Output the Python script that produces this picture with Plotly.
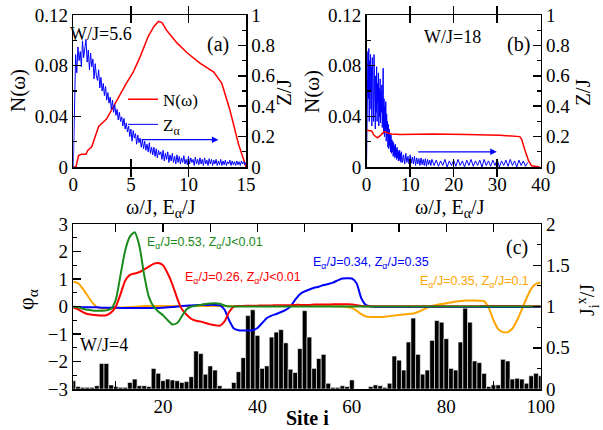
import plotly.graph_objects as go

# ---------------- Panel (a): W/J = 5.6 ----------------
Na_E = [0.0, 0.23, 0.45, 0.7, 1.1, 1.25, 1.6, 1.9, 2.2, 2.9, 3.8, 4.6, 5.2, 5.8, 6.5, 7.0,
        7.4, 7.7, 8.1, 9.0, 9.9, 11.0, 12.2, 12.9, 13.6, 14.35, 14.9, 15.0]
Na_N = [0.0, 0.0, 0.009, 0.01, 0.01, 0.013, 0.016, 0.024, 0.032, 0.038, 0.053, 0.066, 0.075,
        0.087, 0.103, 0.111, 0.115, 0.114, 0.108, 0.098, 0.09, 0.082, 0.075, 0.066, 0.045,
        0.018, 0.003, 0.0]

Za_E = [0.0, 0.1, 0.2, 0.3, 0.4, 0.5, 0.6, 0.7, 0.8, 0.9,
        1.0, 1.1, 1.2, 1.3, 1.4, 1.5, 1.6, 1.7, 1.8, 1.9,
        2.0, 2.1, 2.2, 2.3, 2.4, 2.5, 2.6, 2.7, 2.8, 2.9,
        3.0, 3.1, 3.2, 3.3, 3.4, 3.5, 3.6, 3.7, 3.8, 3.9,
        4.0, 4.1, 4.2, 4.3, 4.4, 4.5, 4.6, 4.7, 4.8, 4.9,
        5.0, 5.1, 5.2, 5.3, 5.4, 5.5, 5.6, 5.7, 5.8, 5.9,
        6.0, 6.1, 6.2, 6.3, 6.4, 6.5, 6.6, 6.7, 6.8, 6.9,
        7.0, 7.1, 7.2, 7.3, 7.4, 7.5, 7.6, 7.7, 7.8, 7.9,
        8.0, 8.1, 8.2, 8.3, 8.4, 8.5, 8.6, 8.7, 8.8, 8.9,
        9.0, 9.1, 9.2, 9.3, 9.4, 9.5, 9.6, 9.7, 9.8, 9.9,
        10.0, 10.1, 10.2, 10.3, 10.4, 10.5, 10.6, 10.7, 10.8, 10.9,
        11.0, 11.1, 11.2, 11.3, 11.4, 11.5, 11.6, 11.7, 11.8, 11.9,
        12.0, 12.1, 12.2, 12.3, 12.4, 12.5, 12.6, 12.7, 12.8, 12.9,
        13.0, 13.1, 13.2, 13.3, 13.4, 13.5, 13.6, 13.7, 13.8, 13.9,
        14.0, 14.1, 14.2, 14.3, 14.4, 14.5, 14.6, 14.7, 14.8, 14.9, 15.0]
Za_Z = [0.0, 0.4, 0.74, 0.62, 0.79, 0.7, 0.76, 0.66, 0.83, 0.72,
        0.8, 0.84, 0.69, 0.77, 0.64, 0.75, 0.66, 0.71, 0.58, 0.68,
        0.6, 0.57, 0.64, 0.52, 0.59, 0.5, 0.55, 0.47, 0.53, 0.44,
        0.49, 0.42, 0.46, 0.38, 0.44, 0.36, 0.41, 0.34, 0.38, 0.31,
        0.36, 0.3, 0.33, 0.27, 0.32, 0.25, 0.29, 0.23, 0.27, 0.2,
        0.25, 0.17, 0.24, 0.19, 0.22, 0.15, 0.21, 0.16, 0.19, 0.13,
        0.18, 0.12, 0.17, 0.11, 0.15, 0.1, 0.16, 0.09, 0.13, 0.08,
        0.13, 0.07, 0.12, 0.06, 0.11, 0.08, 0.1, 0.05, 0.11, 0.04,
        0.09, 0.05, 0.1, 0.03, 0.08, 0.04, 0.09, 0.03, 0.07, 0.02,
        0.08, 0.03, 0.07, 0.02, 0.06, 0.03, 0.075, 0.02, 0.05, 0.015,
        0.07, 0.02, 0.06, 0.03, 0.05, 0.01, 0.065, 0.02, 0.05, 0.015,
        0.06, 0.02, 0.05, 0.01, 0.06, 0.02, 0.045, 0.01, 0.055, 0.02,
        0.05, 0.01, 0.045, 0.02, 0.05, 0.01, 0.04, 0.015, 0.05, 0.01,
        0.04, 0.015, 0.045, 0.01, 0.035, 0.02, 0.045, 0.01, 0.04, 0.015,
        0.035, 0.01, 0.04, 0.015, 0.035, 0.01, 0.04, 0.02, 0.035, 0.015, 0.03]

# ---------------- Panel (b): W/J = 18 ----------------
Nb_E = [0.0, 0.4, 1.15, 1.7, 2.45, 3.2, 4.0, 4.75, 5.7, 7.7, 15.3, 23.0, 30.6, 35.2, 35.6,
        36.4, 37.2, 37.9, 39.8]
Nb_N = [0.029, 0.029, 0.0285, 0.025, 0.023, 0.025, 0.028, 0.027, 0.026, 0.0256, 0.026,
        0.0256, 0.025, 0.024, 0.022, 0.013, 0.005, 0.001, 0.0]

Zb_E = [0.0, 0.1, 0.2, 0.3, 0.4, 0.5, 0.6, 0.7, 0.8, 0.9,
        1.0, 1.1, 1.2, 1.3, 1.4, 1.5, 1.6, 1.7, 1.8, 1.9,
        2.0, 2.1, 2.2, 2.3, 2.4, 2.5, 2.6, 2.7, 2.8, 2.9,
        3.0, 3.1, 3.2, 3.3, 3.4, 3.5, 3.6, 3.7, 3.8, 3.9,
        4.0, 4.1, 4.2, 4.3, 4.4, 4.5, 4.6, 4.7, 4.8, 4.9,
        5.0, 5.1, 5.2, 5.3, 5.4, 5.5, 5.6, 5.7, 5.8, 5.9,
        6.0, 6.1, 6.2, 6.3, 6.4, 6.5, 6.6, 6.7, 6.8, 6.9,
        7.0, 7.1, 7.2, 7.3, 7.4, 7.5, 7.6, 7.7, 7.8, 7.9, 8.0,
        8.25, 8.5, 8.75, 9.0, 9.25, 9.5, 9.75, 10.0, 10.25, 10.5, 10.75, 11.0, 11.25, 11.5,
        11.75, 12.0, 12.25, 12.5, 12.75, 13.0, 13.25, 13.5, 13.75, 14.0, 14.25, 14.5, 14.75, 15.0,
        15.5, 16.0, 16.5, 17.0, 17.5, 18.0, 18.5, 19.0, 19.5, 20.0, 20.5,
        21.0, 21.5, 22.0, 22.5, 23.0, 23.5, 24.0, 24.5, 25.0, 25.5, 26.0, 26.5, 27.0, 27.5,
        28.0, 28.5, 29.0, 29.5, 30.0, 30.5, 31.0, 31.5, 32.0, 32.5, 33.0, 33.5, 34.0, 34.5,
        35.0, 35.5, 36.0, 36.5, 37.0]
Zb_Z = [0.05, 0.6, 0.35, 0.76, 0.45, 0.78, 0.3, 0.7, 0.5, 0.74,
        0.38, 0.66, 0.27, 0.72, 0.4, 0.62, 0.3, 0.74, 0.45, 0.58,
        0.25, 0.6, 0.36, 0.66, 0.3, 0.55, 0.42, 0.62, 0.27, 0.52,
        0.33, 0.58, 0.29, 0.5, 0.36, 0.54, 0.26, 0.47, 0.65, 0.22,
        0.45, 0.2, 0.4, 0.24, 0.43, 0.17, 0.35, 0.2, 0.3, 0.13,
        0.28, 0.12, 0.25, 0.14, 0.22, 0.1, 0.21, 0.09, 0.18, 0.1,
        0.17, 0.07, 0.16, 0.08, 0.14, 0.06, 0.15, 0.07, 0.12, 0.05,
        0.13, 0.06, 0.11, 0.04, 0.1, 0.05, 0.11, 0.04, 0.09, 0.03, 0.1,
        0.03, 0.08, 0.02, 0.09, 0.03, 0.07, 0.02, 0.08, 0.025, 0.065, 0.02, 0.07, 0.01, 0.06,
        0.02, 0.055, 0.01, 0.06, 0.015, 0.05, 0.01, 0.055, 0.005, 0.05, 0.015, 0.045, 0.01, 0.05,
        0.01, 0.045, 0.005, 0.04, 0.01, 0.05, 0.0, 0.04, 0.01, 0.045, 0.005,
        0.05, 0.01, 0.04, 0.0, 0.045, 0.01, 0.05, 0.005, 0.04, 0.01, 0.045, 0.0, 0.05, 0.01,
        0.04, 0.005, 0.045, 0.01, 0.05, 0.0, 0.04, 0.01, 0.045, 0.005, 0.05, 0.01, 0.04, 0.0,
        0.045, 0.01, 0.04, 0.005, 0.03]

# ---------------- Panel (c): W/J = 4 ----------------
sites = list(range(1, 101))
Jx = [0.10, 0.03, 0.02, 0.02, 0.02, 0.04, 0.31, 0.31, 0.05, 0.03,
      0.02, 0.02, 0.08, 0.12, 0.04, 0.04, 0.03, 0.25, 0.19, 0.10,
      0.12, 0.11, 0.10, 0.08, 0.09, 0.15, 0.46, 0.43, 0.18, 0.28,
      0.23, 0.04, 0.01, 0.01, 0.08, 0.21, 0.38, 0.89, 0.96, 0.65,
      0.25, 0.28, 0.63, 0.69, 0.72, 0.56, 0.24, 0.20, 0.49, 0.95,
      0.63, 0.25, 0.37, 0.42, 0.07, 0.02, 0.02, 0.04, 0.03, 0.11,
      0.0, 0.0, 0.0, 0.03, 0.05, 0.04, 0.02, 0.07, 0.40, 0.35,
      0.23, 0.57, 0.86, 0.42, 0.18, 0.23, 0.59, 0.83, 0.81, 0.61,
      0.25, 0.23, 0.57, 0.98, 0.81, 0.34, 0.32, 0.19, 0.03, 0.05,
      0.05, 0.36, 0.34, 0.12, 0.13, 0.12, 0.07, 0.16, 0.19, 0.16]

phi_green = [0.0, -0.03, -0.08, -0.12, -0.14, -0.15, -0.15, -0.14, -0.08, 0.25,
             1.15, 2.05, 2.55, 2.7, 2.2, 1.15, 0.35, 0.0, -0.18, -0.32,
             -0.5, -0.65, -0.6, -0.35, -0.1, 0.0, 0.03, 0.06, 0.09, 0.11,
             0.12, 0.1, 0.04, 0.0, 0.0, 0.0, 0.0, 0.0, 0.0, 0.0,
             0.0, 0.0, 0.0, 0.0, 0.0, 0.0, 0.0, 0.0, 0.0, 0.0,
             0.0, 0.0, 0.0, 0.0, 0.0, 0.0, 0.0, 0.0, 0.0, 0.0,
             0.0, 0.0, 0.0, 0.0, 0.0, 0.0, 0.0, 0.0, 0.0, 0.0,
             0.0, 0.0, 0.0, 0.0, 0.0, 0.0, 0.0, 0.0, 0.0, 0.0,
             0.0, 0.0, 0.0, 0.0, 0.0, 0.0, 0.0, 0.0, 0.0, 0.0,
             0.0, 0.0, 0.0, 0.0, 0.0, 0.0, 0.0, 0.0, 0.0, 0.0]
phi_red = [-0.05, -0.1, -0.2, -0.27, -0.3, -0.32, -0.33, -0.32, -0.22, 0.0,
           0.45, 0.95, 1.15, 1.2, 1.25, 1.35, 1.45, 1.55, 1.58, 1.5,
           1.2, 0.8, 0.3, -0.1, -0.3, -0.45, -0.52, -0.55, -0.6, -0.65,
           -0.68, -0.7, -0.55, -0.2, 0.0, 0.02, 0.02, 0.03, 0.03, 0.03,
           0.04, 0.04, 0.04, 0.05, 0.05, 0.05, 0.05, 0.06, 0.06, 0.06,
           0.06, 0.07, 0.07, 0.07, 0.07, 0.08, 0.08, 0.08, 0.08, 0.07,
           0.05, 0.02, 0.01, 0.01, 0.01, 0.01, 0.01, 0.01, 0.01, 0.01,
           0.01, 0.01, 0.01, 0.01, 0.01, 0.01, 0.01, 0.01, 0.01, 0.01,
           0.01, 0.01, 0.01, 0.01, 0.01, 0.01, 0.01, 0.02, 0.02, 0.02,
           0.02, 0.02, 0.02, 0.02, 0.02, 0.01, 0.01, 0.01, 0.01, 0.01]
phi_blue = [-0.02, -0.02, -0.03, -0.03, -0.03, -0.03, -0.04, -0.04, -0.04, -0.04,
            -0.05, -0.05, -0.05, -0.05, -0.05, -0.05, -0.05, -0.05, -0.05, -0.04,
            -0.03, -0.02, 0.0, 0.02, 0.03, 0.04, 0.05, 0.06, 0.06, 0.06,
            0.06, 0.04, -0.1, -0.5, -0.8, -0.86, -0.87, -0.87, -0.86, -0.78,
            -0.6, -0.42, -0.33, -0.27, -0.2, -0.12, 0.0, 0.25, 0.45, 0.55,
            0.62, 0.68, 0.72, 0.78, 0.82, 0.87, 0.95, 1.02, 1.03, 1.02,
            0.85, 0.3, 0.05, 0.0, -0.02, -0.02, -0.02, -0.02, -0.02, -0.02,
            -0.02, -0.02, -0.02, -0.02, -0.02, -0.02, -0.02, -0.02, -0.02, -0.02,
            -0.02, -0.02, -0.02, -0.02, -0.02, -0.02, -0.02, -0.02, -0.02, -0.02,
            -0.02, -0.02, -0.02, -0.02, -0.02, -0.02, -0.02, -0.02, -0.02, -0.02]
phi_orange = [0.9, 0.85, 0.65, 0.4, 0.15, -0.02, -0.07, -0.07, -0.06, -0.05,
              -0.04, -0.03, -0.02, -0.01, 0.0, 0.02, 0.02, 0.02, 0.02, 0.02,
              0.02, 0.02, 0.02, 0.02, 0.02, 0.02, 0.02, 0.02, 0.02, 0.02,
              0.02, 0.02, 0.02, 0.02, 0.02, 0.02, 0.02, 0.02, 0.02, 0.02,
              0.02, 0.02, 0.02, 0.02, 0.02, 0.02, 0.02, 0.02, 0.02, 0.02,
              0.02, 0.02, 0.02, 0.02, 0.02, 0.01, 0.01, 0.0, -0.02, -0.05,
              -0.15, -0.28, -0.36, -0.38, -0.38, -0.38, -0.37, -0.35, -0.33, -0.31,
              -0.29, -0.27, -0.25, -0.2, -0.12, -0.04, 0.02, 0.06, 0.09, 0.12,
              0.15, 0.18, 0.2, 0.22, 0.22, 0.22, 0.21, 0.2, -0.05, -0.5,
              -0.82, -0.93, -0.93, -0.8, -0.5, -0.1, 0.3, 0.65, 0.82, 0.87]

labels_c = [
    ("E<sub>α</sub>/J=0.53, Z<sub>α</sub>/J<0.01", "#1a8a1a"),
    ("E<sub>α</sub>/J=0.26, Z<sub>α</sub>/J<0.01", "#ff0000"),
    ("E<sub>α</sub>/J=0.34, Z<sub>α</sub>/J=0.35", "#0000ff"),
    ("E<sub>α</sub>/J=0.35, Z<sub>α</sub>/J=0.1", "#ffa500"),
]

SERIF = "Liberation Serif, Times New Roman, serif"
SANS = "Liberation Sans, Arial, sans-serif"
RED, BLUE, GREEN, ORANGE = "#ff0000", "#0000ff", "#1a8a1a", "#ffa500"

fig = go.Figure()

# (a)
fig.add_trace(go.Scatter(x=Na_E, y=Na_N, mode="lines", line=dict(color=RED, width=1.5),
                         name="N(ω)", xaxis="x", yaxis="y", legendrank=1))
fig.add_trace(go.Scatter(x=Za_E, y=Za_Z, mode="lines", line=dict(color=BLUE, width=1),
                         name="Z<sub>α</sub>", xaxis="x", yaxis="y2", legendrank=2))
# (b)
fig.add_trace(go.Scatter(x=Zb_E, y=Zb_Z, mode="lines", line=dict(color=BLUE, width=1),
                         showlegend=False, xaxis="x2", yaxis="y3"))
fig.add_trace(go.Scatter(x=Nb_E, y=Nb_N, mode="lines", line=dict(color=RED, width=1.5),
                         showlegend=False, xaxis="x2", yaxis="y4"))
# (c)
fig.add_trace(go.Bar(x=sites, y=Jx, width=1, marker=dict(color="black",
                     line=dict(color="white", width=0.6)),
                     showlegend=False, xaxis="x3", yaxis="y5"))
for ys, col in [(phi_orange, ORANGE), (phi_blue, BLUE), (phi_red, RED), (phi_green, GREEN)]:
    fig.add_trace(go.Scatter(x=sites, y=ys, mode="lines",
                             line=dict(color=col, width=2, shape="spline", smoothing=0.6),
                             showlegend=False, xaxis="x3", yaxis="y6"))

tickfont = dict(family=SERIF, size=19, color="black")
common = dict(showline=True, linecolor="black", linewidth=1.5, ticks="inside",
              ticklen=8, tickwidth=1.5, tickcolor="black", showgrid=False,
              zeroline=False, tickfont=tickfont, automargin=False)
minor_style = dict(ticks="inside", ticklen=4, tickwidth=1.2, tickcolor="black", showgrid=False)

xa = [0.1216, 0.408]
xb = [0.608, 0.8967]
ytop = [0.6116, 0.965]
xc = [0.1216, 0.8967]
yc = [0.0953, 0.479]

fig.update_layout(
    width=603, height=430, autosize=False,
    margin=dict(l=0, r=0, t=0, b=0, pad=0, autoexpand=False),
    paper_bgcolor="white", plot_bgcolor="white", bargap=0, hovermode=False,
    xaxis=dict(domain=xa, anchor="y", range=[0, 15], tickvals=[0, 5, 10, 15],
               mirror="allticks", **common),
    yaxis=dict(domain=ytop, anchor="x", range=[0, 0.12], tickvals=[0, 0.04, 0.08, 0.12],
               ticktext=["0", "0.04", "0.08", "0.12"], side="left",
               minor=dict(dtick=0.02, **minor_style), **common),
    yaxis2=dict(overlaying="y", anchor="x", side="right", range=[0, 1],
                tickvals=[0, 0.2, 0.4, 0.6, 0.8, 1], ticktext=["0", "0.2", "0.4", "0.6", "0.8", "1"],
                minor=dict(dtick=0.1, **minor_style), **common),
    xaxis2=dict(domain=xb, anchor="y3", range=[0, 40], tickvals=[0, 10, 20, 30, 40],
                mirror="allticks", **common),
    yaxis3=dict(domain=ytop, anchor="x2", side="right", range=[0, 1],
                tickvals=[0, 0.2, 0.4, 0.6, 0.8, 1], ticktext=["0", "0.2", "0.4", "0.6", "0.8", "1"],
                minor=dict(dtick=0.1, **minor_style), **common),
    yaxis4=dict(overlaying="y3", anchor="x2", side="left", range=[0, 0.12],
                tickvals=[0, 0.04, 0.08, 0.12], ticktext=["0", "0.04", "0.08", "0.12"],
                minor=dict(dtick=0.02, **minor_style), **common),
    xaxis3=dict(domain=xc, anchor="y5", range=[1, 100], tickvals=[20, 40, 60, 80, 100],
                mirror="allticks", minor=dict(tickvals=[10, 30, 50, 70, 90], **minor_style),
                **common),
    yaxis5=dict(domain=yc, anchor="x3", side="right", range=[0, 2],
                tickvals=[0, 0.5, 1, 1.5, 2], ticktext=["0", "0.5", "1", "1.5", "2"],
                minor=dict(tickvals=[0.25, 0.75, 1.25, 1.75], **minor_style), **common),
    yaxis6=dict(overlaying="y5", anchor="x3", side="left", range=[-3, 3],
                tickvals=[-3, -2, -1, 0, 1, 2, 3],
                minor=dict(dtick=0.5, **minor_style), **common),
    legend=dict(x=0.204, y=0.81, xanchor="left", yanchor="top",
                bgcolor="rgba(0,0,0,0)", font=dict(family=SERIF, size=17, color="black"),
                itemwidth=30, tracegroupgap=0),
)

def ann(text, x, y, size=18, angle=0, color="black", family=SERIF, xanchor="center"):
    fig.add_annotation(text=text, x=x, y=y, xref="paper", yref="paper", showarrow=False,
                       textangle=angle, xanchor=xanchor, yanchor="middle",
                       font=dict(family=family, size=size, color=color))

W, H = 603.0, 430.0
def px(xp, yp):
    return xp / W, 1 - yp / H

# panel texts
ann("W/J=5.6", *px(101, 34), size=18)
ann("(a)", *px(218, 44), size=20)
ann("W/J=18", *px(452, 37), size=18)
ann("(b)", *px(518, 44), size=20)
ann("(c)", *px(517, 247), size=20)
ann("W/J=4", *px(104, 345), size=18)

# axis titles
ann("N(ω)", *px(18, 91), size=21, angle=-90)
ann("Z/J", *px(284, 93), size=21, angle=-90)
ann("N(ω)", *px(312, 92), size=21, angle=-90)
ann("Z/J", *px(583, 93), size=21, angle=-90)
ann("ω/J, E<sub>α</sub>/J", *px(161, 208), size=20)
ann("ω/J, E<sub>α</sub>/J", *px(450, 208), size=20)
ann("φ<sub>α</sub>", *px(27, 300), size=22, angle=-90)
ann("<b>Site i</b>", *px(307, 418), size=20)
ann("J<sub>i</sub><sup>x</sup>/J", *px(588, 300), size=20, angle=-90)

# curve labels in (c)
label_pos = [(145, 243), (183, 278), (311, 263), (418, 282)]
for (txt, col), (lx, ly) in zip(labels_c, label_pos):
    ann(txt, *px(lx, ly), size=12.5, color=col, family=SANS, xanchor="left")

# arrows pointing to the right-hand axis
fig.add_annotation(x=12.6, y=0.18, ax=5.8, ay=0.18, xref="x", yref="y2", axref="x", ayref="y2",
                   showarrow=True, arrowhead=2, arrowsize=1, arrowwidth=1.3, arrowcolor=BLUE, text="")
fig.add_annotation(x=29.9, y=0.1, ax=11.5, ay=0.1, xref="x2", yref="y3", axref="x2", ayref="y3",
                   showarrow=True, arrowhead=2, arrowsize=1, arrowwidth=1.3, arrowcolor=BLUE, text="")

fig.write_html(
    "out.html",
    config={"displayModeBar": False, "responsive": False, "staticPlot": True},
    post_script=("document.documentElement.style.margin='0px';"
                 "document.body.style.margin='0px';"
                 "document.body.style.overflow='hidden';"
                 "document.documentElement.style.overflow='hidden';"),
)
